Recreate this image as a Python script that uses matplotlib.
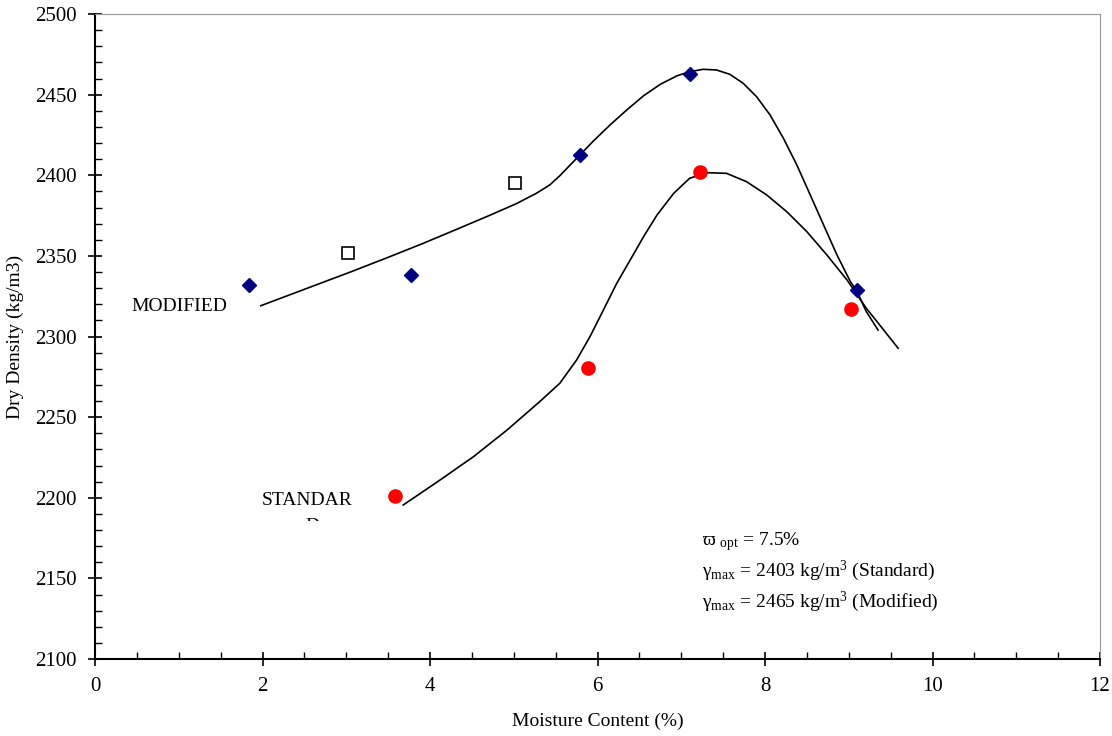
import matplotlib
matplotlib.use("Agg")
import matplotlib.pyplot as plt
from matplotlib.ticker import MultipleLocator
from matplotlib.patches import Rectangle

plt.rcParams['font.family'] = ['Liberation Serif', 'DejaVu Serif']
plt.rcParams['mathtext.fontset'] = 'custom'
plt.rcParams['mathtext.rm'] = 'Liberation Serif'
plt.rcParams['mathtext.it'] = 'Liberation Serif:italic'

# measured points
mod_x = [1.84, 3.77, 5.79, 7.10, 9.10]
mod_y = [2332, 2338, 2412.5, 2462.5, 2329]
sq_x = [3.02, 5.01]
sq_y = [2352, 2395]
std_x = [3.58, 5.89, 7.22, 9.03]
std_y = [2201, 2280.5, 2402, 2317]

# fitted curves
mod_curve_x = [1.98, 3.05, 3.52, 3.92, 4.32, 4.72, 5.04, 5.27, 5.43, 5.55, 5.79, 5.95,
               6.15, 6.35, 6.55, 6.75, 6.95, 7.10, 7.26, 7.42, 7.58, 7.74, 7.90, 8.06,
               8.22, 8.38, 8.54, 8.70, 8.86, 9.02, 9.10, 9.21, 9.35]
mod_curve_y = [2319.1, 2340.0, 2349.5, 2357.8, 2366.5, 2375.3, 2382.6, 2388.8, 2394.0,
               2399.7, 2412.6, 2421.2, 2431.2, 2440.5, 2449.3, 2456.4, 2461.7, 2464.2,
               2465.7, 2465.3, 2462.6, 2457.0, 2448.7, 2437.4, 2422.9, 2406.4, 2387.8,
               2369.1, 2350.5, 2334.0, 2327.8, 2315.4, 2304.0]
std_curve_x = [3.68, 4.12, 4.52, 4.92, 5.31, 5.55, 5.75, 5.91, 6.07, 6.23, 6.39, 6.55,
               6.71, 6.91, 7.10, 7.30, 7.54, 7.78, 8.02, 8.26, 8.50, 8.74, 8.98, 9.21,
               9.37, 9.59]
std_curve_y = [2195.5, 2211.0, 2225.5, 2242.0, 2259.6, 2271.0, 2285.4, 2299.9, 2316.4,
               2333.0, 2347.4, 2361.9, 2375.3, 2388.8, 2398.1, 2401.6, 2401.2, 2396.0,
               2387.8, 2377.4, 2365.0, 2350.5, 2335.0, 2317.5, 2307.1, 2292.7]

fig = plt.figure(figsize=(11.12, 7.36), dpi=100)
ax = fig.add_axes([95 / 1112, 1 - 659 / 736, 1005 / 1112, 645 / 736])

ax.plot(mod_curve_x, mod_curve_y, color='black', lw=1.2, solid_joinstyle='round')
ax.plot(std_curve_x, std_curve_y, color='black', lw=1.2, solid_joinstyle='round')
ax.plot(mod_x, mod_y, 'D', color='#000080', ms=7.5, ls='none')
ax.plot(sq_x, sq_y, 's', mfc='white', mec='black', mew=1.2, ms=9, ls='none')
ax.plot(std_x, std_y, 'o', color='#ff0000', ms=9.5, ls='none')

ax.set_xlim(0, 12)
ax.set_ylim(2100, 2500)
ax.xaxis.set_major_locator(MultipleLocator(2))
ax.xaxis.set_minor_locator(MultipleLocator(0.5))
ax.yaxis.set_major_locator(MultipleLocator(50))
ax.yaxis.set_minor_locator(MultipleLocator(10))
ax.tick_params(which='major', direction='inout', length=10, width=1.2, labelsize=15, pad=8)
ax.tick_params(which='minor', direction='in', length=5, width=1)
ax.tick_params(axis='y', which='both', right=False)
ax.tick_params(axis='x', which='both', top=False)

for s in ['left', 'bottom']:
    ax.spines[s].set_linewidth(1.5)
for s in ['top', 'right']:
    ax.spines[s].set_color('#999999')
    ax.spines[s].set_linewidth(0.8)

ax.set_xlabel('Moisture Content (%)', fontsize=14, labelpad=12)
ax.set_ylabel('Dry Density (kg/m3)', fontsize=14, labelpad=8)

ax.text(0.43, 2318.9, 'MODIFIED', fontsize=14, va='center', ha='left')
ax.text(1.99, 2198, 'STANDAR', fontsize=14, va='center', ha='left')
d = ax.text(2.6, 2182, 'D', fontsize=14, va='center', ha='center')
d.set_clip_path(Rectangle((0, 2185.6), 12, 20, transform=ax.transData))
d.set_clip_on(True)

ax.text(7.25, 2170.7, '\u03d6 $_{\\mathrm{opt}}$ = 7.5%', fontsize=14, va='baseline')
ax.text(7.25, 2151.5, '\u03b3$_{\\mathrm{max}}$ = 2403 kg/m$^{3}$ (Standard)', fontsize=14, va='baseline')
ax.text(7.25, 2132.2, '\u03b3$_{\\mathrm{max}}$ = 2465 kg/m$^{3}$ (Modified)', fontsize=14, va='baseline')

fig.savefig('out.png', dpi=100)
